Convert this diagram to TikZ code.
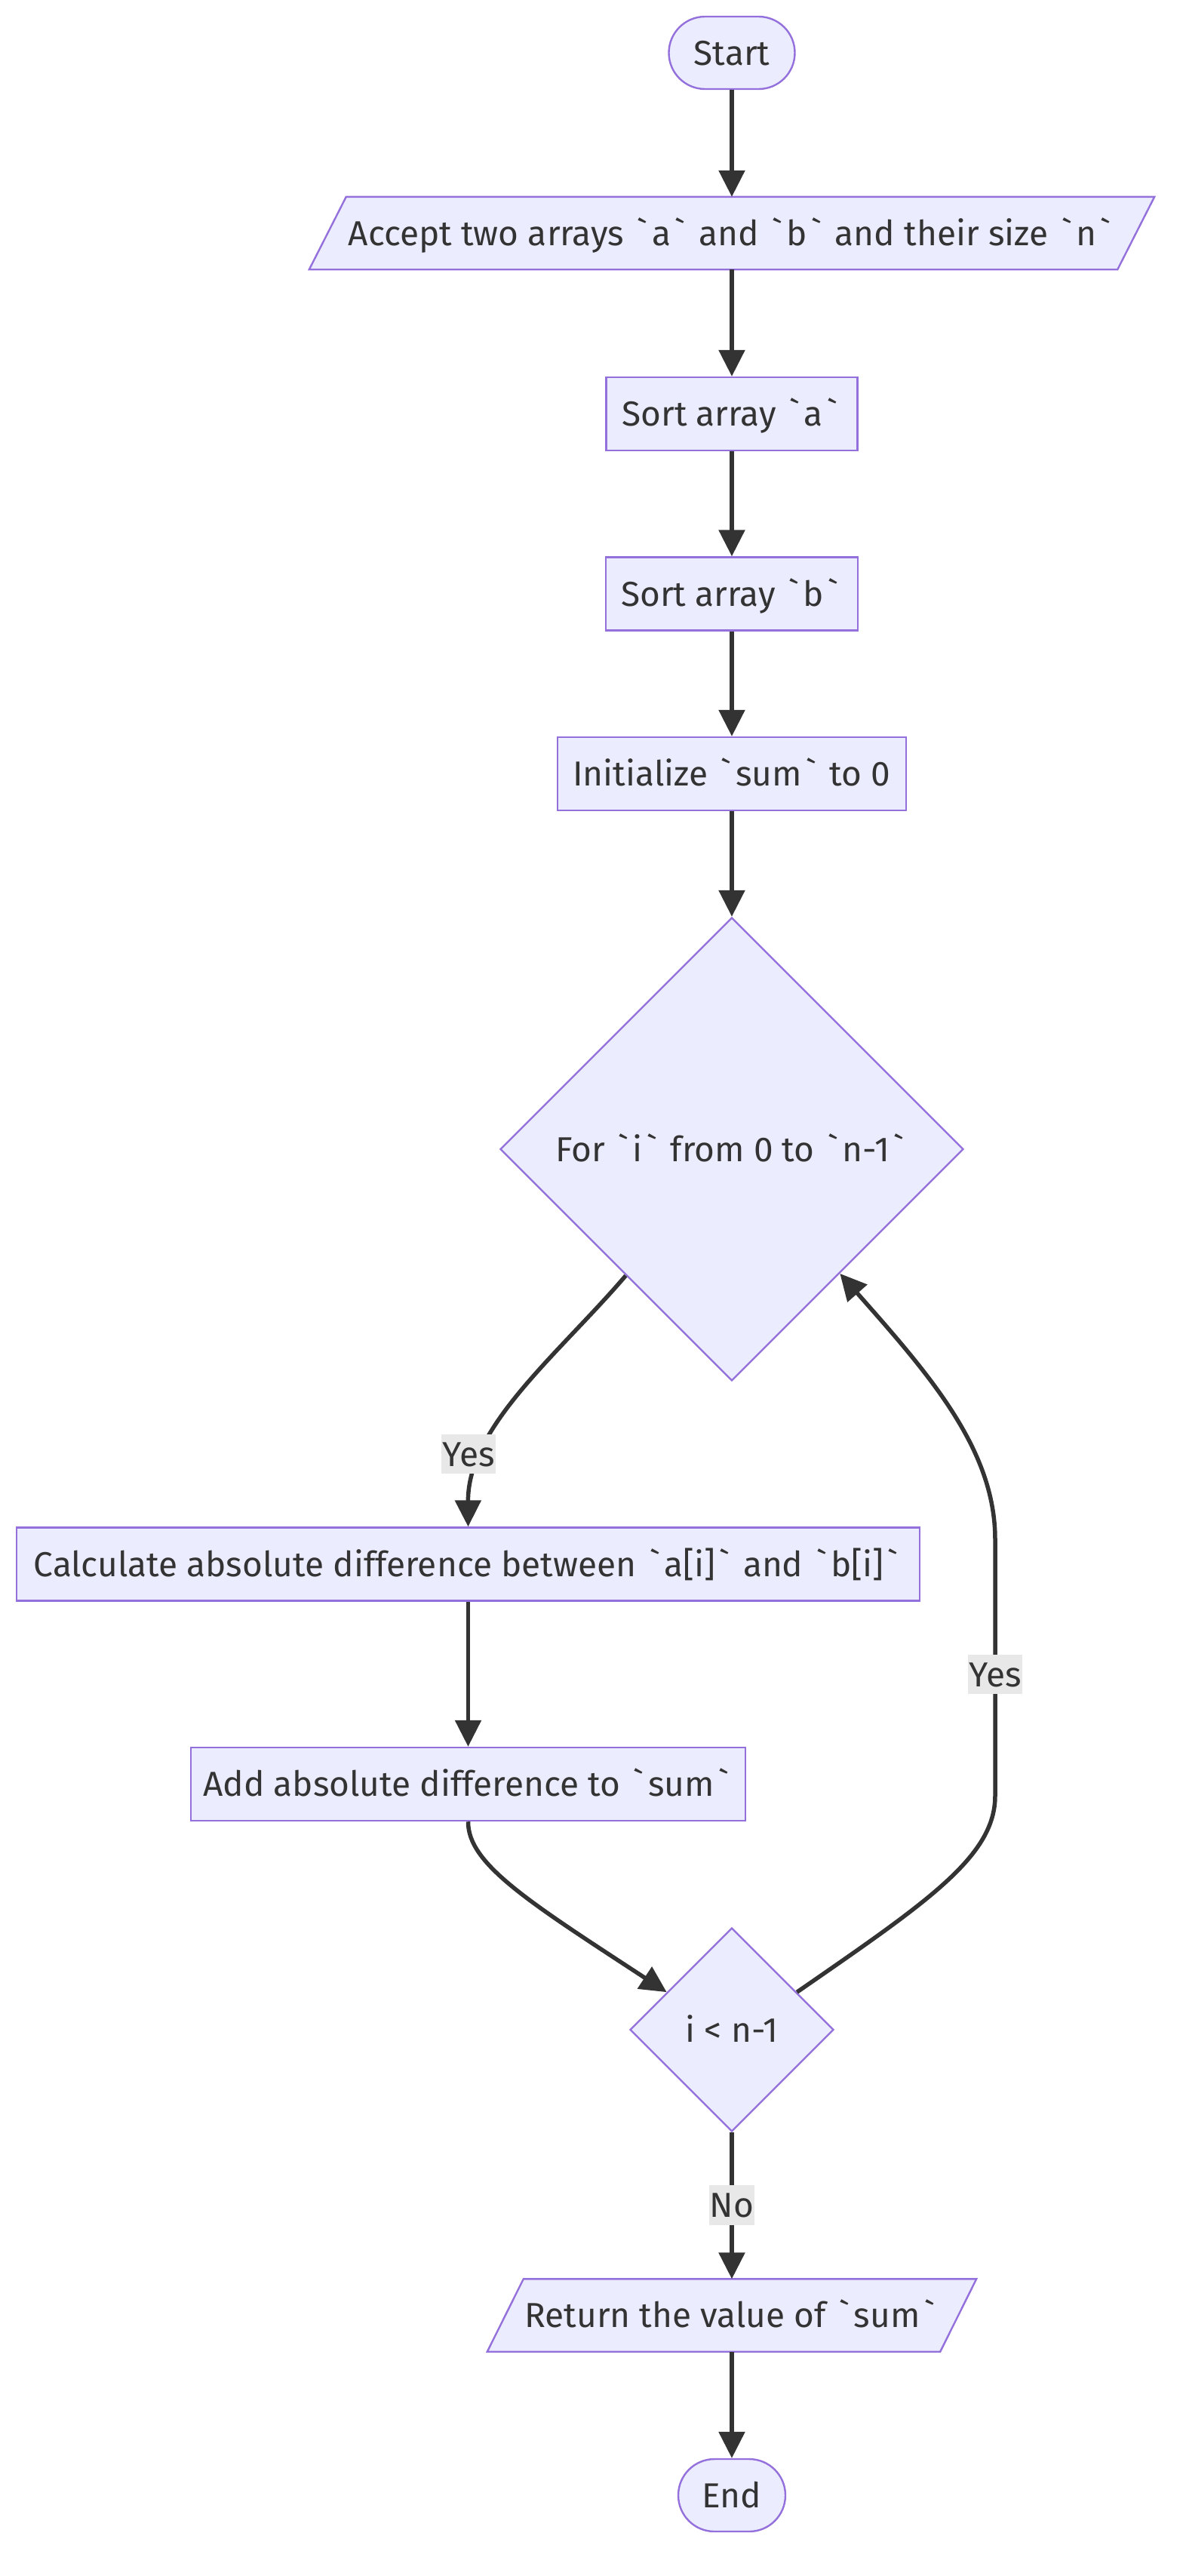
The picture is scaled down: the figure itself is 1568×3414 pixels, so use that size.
\documentclass[tikz,border=0pt]{standalone}
\usepackage{fontspec}
\newfontfamily\flowfont{Fira Sans}
\usetikzlibrary{arrows.meta,shapes.geometric}
\definecolor{nodefill}{HTML}{ECECFF}
\definecolor{nodeline}{HTML}{9370DB}
\definecolor{ink}{HTML}{333333}
\definecolor{lblbg}{HTML}{E8E8E8}
\pgfdeclarelayer{background}
\pgfsetlayers{background,main}
% backtick with a little air on both sides
\newcommand\bq{\kern0.12em`\kern0.12em}

\begin{document}
\begin{tikzpicture}[x=1pt,y=-1pt,
  every node/.style={font=\flowfont\fontsize{46}{55}\selectfont, text=ink},
  base/.style={draw=nodeline, fill=nodefill, line width=2.4pt,
    text height=32pt, text depth=0pt, inner sep=0pt},
  box/.style={base, rectangle, minimum height=97pt},
  term/.style={base, rectangle, rounded corners=48pt, minimum height=96pt},
  decision/.style={base, diamond, aspect=1},
  io/.style={rectangle, inner sep=0pt, minimum height=96pt,
    text height=32pt, text depth=0pt},
  ioshape/.style={draw=nodeline, fill=nodefill, line width=2.4pt},
  flow/.style={draw=ink, line width=5.5pt, -{Triangle[length=35pt,width=34pt]}},
  lbl/.style={fill=lblbg, inner xsep=1pt, inner ysep=0pt, minimum height=52pt,
    text height=32pt, text depth=0pt},
]
\useasboundingbox (0,0) rectangle (1568,3414);

% process steps
\node[term, minimum width=167pt] (start) at (970,70) {Start};
\node[io, minimum width=1120pt] (inp) at (970,309)
  {Accept two arrays \bq a\bq{} and \bq b\bq{} and their size \bq n\bq};
\node[box, minimum width=333pt] (sorta) at (970,548.5) {Sort array \bq a\bq};
\node[box, minimum width=334pt] (sortb) at (970,787) {Sort array \bq b\bq};
\node[box, minimum width=462pt] (init) at (970,1025.5) {Initialize \bq sum\bq{} to 0};
\node[decision, minimum width=614pt, minimum height=614pt] (loop) at (970,1523)
  {For \bq i\bq{} from 0 to \bq n-1\bq};
\node[box, minimum width=1197pt] (calc) at (620.5,2073)
  {Calculate absolute difference between \bq a[i]\bq{} and \bq b[i]\bq};
\node[box, minimum width=735pt] (add) at (620.5,2364.5)
  {Add absolute difference to \bq sum\bq};
\node[decision, minimum width=270pt, minimum height=270pt] (check) at (970,2690)
  {i < n-1};
\node[io, minimum width=648pt] (ret) at (970,3068.5) {Return the value of \bq sum\bq};
\node[term, minimum width=142pt] (end) at (970,3307) {End};

% input/output parallelograms behind their text
\begin{pgfonlayer}{background}
  \foreach \n/\s in {inp/49,ret/48}
    \path[ioshape] (\n.south west) -- ([xshift=\s pt]\n.north west)
      -- (\n.north east) -- ([xshift=-\s pt]\n.south east) -- cycle;
\end{pgfonlayer}

% connectors
\draw[flow] (start) -- (inp);
\draw[flow] (inp) -- (sorta);
\draw[flow] (sorta) -- (sortb);
\draw[flow] (sortb) -- (init);
\draw[flow] (init) -- (loop);
\draw[flow] (loop.230) .. controls (740,1795) and (620,1890) .. (calc.north);
\draw[flow] (calc) -- (add);
\draw[flow] (add.south) .. controls (620,2470) and (700,2520) .. (check.150);
\draw[flow] (check.30) .. controls (1230,2520) and (1319,2460) .. (1319,2380)
  -- (1319,2040) .. controls (1319,1920) and (1230,1820) .. (loop.-49);
\draw[flow] (check) -- (ret);
\draw[flow] (ret) -- (end);

% edge labels
\node[lbl] (yesdown) at (621,1927) {Yes};
\node[lbl] (yesback) at (1319,2219) {Yes};
\node[lbl, minimum height=53pt] (nolbl) at (970,2922.5) {No};
\end{tikzpicture}
\end{document}
